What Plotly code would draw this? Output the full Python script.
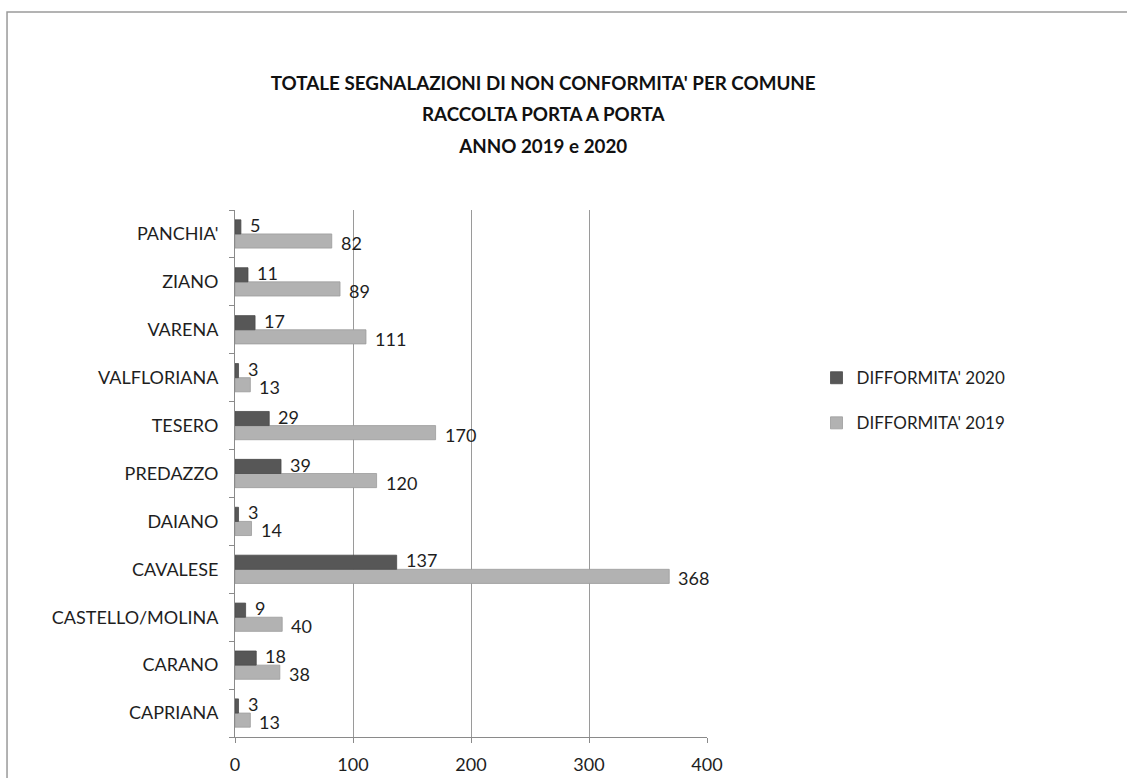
import plotly.graph_objects as go

# Comuni, bottom to top as they appear on the axis
comuni = ["CAPRIANA", "CARANO", "CASTELLO/MOLINA", "CAVALESE", "DAIANO",
          "PREDAZZO", "TESERO", "VALFLORIANA", "VARENA", "ZIANO", "PANCHIA'"]
diff_2020 = [3, 18, 9, 137, 3, 39, 29, 3, 17, 11, 5]
diff_2019 = [13, 38, 40, 368, 14, 120, 170, 13, 111, 89, 82]
x_ticks = [0, 100, 200, 300, 400]

FONT = "Lato, Open Sans, sans-serif"
DARK = "#575757"
LIGHT = "#b2b2b2"
TXT = "#1e1e1e"

fig = go.Figure()
fig.add_trace(go.Bar(
    y=comuni, x=diff_2019, orientation="h", name="DIFFORMITA' 2019",
    marker=dict(color=LIGHT, line=dict(color="#9c9c9c", width=0.8)),
    legendgroup="b", legendrank=2,
))
fig.add_trace(go.Bar(
    y=comuni, x=diff_2020, orientation="h", name="DIFFORMITA' 2020",
    marker=dict(color=DARK, line=dict(color="#4a4a4a", width=0.8)),
    legendgroup="a", legendrank=1,
))

# value labels just past the end of each bar
annotations = []
for c, v in zip(comuni, diff_2020):
    annotations.append(dict(x=v, y=c, xref="x", yref="y", text=str(v),
                            showarrow=False, xanchor="left", yanchor="middle",
                            xshift=7, yshift=9,
                            font=dict(family=FONT, size=18, color=TXT)))
for c, v in zip(comuni, diff_2019):
    annotations.append(dict(x=v, y=c, xref="x", yref="y", text=str(v),
                            showarrow=False, xanchor="left", yanchor="middle",
                            xshift=7, yshift=-9,
                            font=dict(family=FONT, size=18, color=TXT)))

title_lines = ["TOTALE SEGNALAZIONI DI NON CONFORMITA' PER COMUNE",
               "RACCOLTA PORTA A PORTA",
               "ANNO 2019 e 2020"]
title_text = "<br>".join(
    f"<span style='font-size:18.8px'>{t}</span>" for t in title_lines)

fig.update_layout(
    width=1127, height=778,
    margin=dict(l=235, r=420, t=210, b=41, autoexpand=False),
    paper_bgcolor="white", plot_bgcolor="white",
    barmode="group", bargap=0.41, bargroupgap=0,
    font=dict(family=FONT, size=17, color=TXT),
    title=dict(
        text=title_text,
        x=0.482, xanchor="center", xref="container",
        y=0.884, yanchor="top", yref="container",
        font=dict(family=FONT, size=24, color="#111", weight="bold"),
    ),
    legend=dict(
        x=1.232, xanchor="left", y=0.715, yanchor="top",
        traceorder="grouped", tracegroupgap=20,
        font=dict(family=FONT, size=17, color=TXT),
        itemwidth=30, bgcolor="rgba(0,0,0,0)",
    ),
    xaxis=dict(
        range=[0, 400], tickvals=x_ticks, ticktext=[str(t) for t in x_ticks],
        showgrid=True, gridcolor="#9a9a9a", gridwidth=1,
        showline=True, linecolor="#8a8a8a", linewidth=1,
        ticks="outside", ticklen=5, tickcolor="#8a8a8a",
        tickfont=dict(family=FONT, size=18, color=TXT),
        ticklabelstandoff=6, automargin=False,
        zeroline=False, fixedrange=True,
    ),
    yaxis=dict(
        type="category", categoryorder="array", categoryarray=comuni,
        showline=True, linecolor="#8a8a8a", linewidth=1,
        ticks="outside", ticklen=5, tickcolor="#8a8a8a", tickson="boundaries",
        tickfont=dict(family=FONT, size=18, color=TXT),
        ticklabelstandoff=12, automargin=False,
        showgrid=False, fixedrange=True,
    ),
    annotations=annotations,
    shapes=[dict(type="rect", xref="paper", yref="paper",
                 x0=-0.483, x1=2.0, y0=-0.2, y1=1.3757,
                 line=dict(color="#9a9a9a", width=1.5), layer="below")],
)

fig.write_html("out.html")
